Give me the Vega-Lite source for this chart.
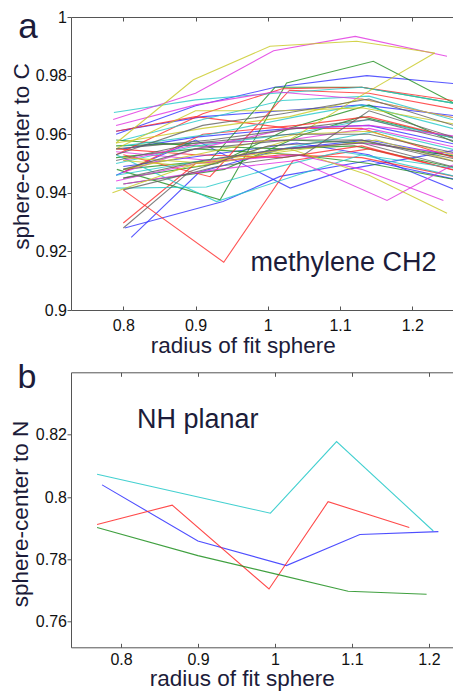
{
"$schema": "https://vega.github.io/schema/vega-lite/v6.json",
"background": "white",
"padding": {"left": 9, "top": 9, "right": 0, "bottom": 0},
"bounds": "flush",
"spacing": 62.3,
"config": {
  "view": {"stroke": null},
  "font": "Liberation Sans",
  "axis": {"labelFont": "Liberation Sans", "labelFontSize": 16, "labelColor": "#111111", "titleFont": "Liberation Sans", "titleFontSize": 22.5, "titleFontWeight": "normal", "titleColor": "#1c1c3a", "domainColor": "#555555", "tickColor": "#555555", "grid": false, "domainWidth": 1, "tickWidth": 1}
},
"datasets": {
"a": [
{"s":"B1","c":"b","x":0.79,"y":0.960},{"s":"B1","c":"b","x":0.90,"y":0.9697},{"s":"B1","c":"b","x":1.01,"y":0.976},{"s":"B1","c":"b","x":1.137,"y":0.980},{"s":"B1","c":"b","x":1.27,"y":0.977},
{"s":"B2","c":"b","x":0.811,"y":0.9248},{"s":"B2","c":"b","x":0.905,"y":0.947},{"s":"B2","c":"b","x":1.02,"y":0.955},{"s":"B2","c":"b","x":1.14,"y":0.958},{"s":"B2","c":"b","x":1.27,"y":0.952},
{"s":"B3","c":"b","x":0.802,"y":0.928},{"s":"B3","c":"b","x":0.938,"y":0.937},{"s":"B3","c":"b","x":1.017,"y":0.9456},{"s":"B3","c":"b","x":1.14,"y":0.951},{"s":"B3","c":"b","x":1.27,"y":0.944},
{"s":"B4","c":"b","x":0.79,"y":0.946},{"s":"B4","c":"b","x":0.90,"y":0.958},{"s":"B4","c":"b","x":1.031,"y":0.9416},{"s":"B4","c":"b","x":1.11,"y":0.948},{"s":"B4","c":"b","x":1.27,"y":0.955},
{"s":"B5","c":"b","x":0.80,"y":0.949},{"s":"B5","c":"b","x":0.92,"y":0.953},{"s":"B5","c":"b","x":1.04,"y":0.957},{"s":"B5","c":"b","x":1.14,"y":0.953},{"s":"B5","c":"b","x":1.27,"y":0.940},
{"s":"B6","c":"b","x":0.79,"y":0.961},{"s":"B6","c":"b","x":0.91,"y":0.966},{"s":"B6","c":"b","x":1.02,"y":0.968},{"s":"B6","c":"b","x":1.13,"y":0.970},{"s":"B6","c":"b","x":1.27,"y":0.966},
{"s":"B7","c":"b","x":0.80,"y":0.955},{"s":"B7","c":"b","x":0.90,"y":0.959},{"s":"B7","c":"b","x":1.03,"y":0.962},{"s":"B7","c":"b","x":1.14,"y":0.963},{"s":"B7","c":"b","x":1.27,"y":0.956},
{"s":"G1","c":"g","x":0.791,"y":0.948},{"s":"G1","c":"g","x":0.934,"y":0.9376},{"s":"G1","c":"g","x":1.026,"y":0.9775},{"s":"G1","c":"g","x":1.146,"y":0.9849},{"s":"G1","c":"g","x":1.27,"y":0.969},
{"s":"G2","c":"g","x":0.79,"y":0.956},{"s":"G2","c":"g","x":0.91,"y":0.957},{"s":"G2","c":"g","x":1.03,"y":0.958},{"s":"G2","c":"g","x":1.14,"y":0.957},{"s":"G2","c":"g","x":1.27,"y":0.952},
{"s":"G3","c":"g","x":0.80,"y":0.948},{"s":"G3","c":"g","x":0.92,"y":0.951},{"s":"G3","c":"g","x":1.01,"y":0.976},{"s":"G3","c":"g","x":1.13,"y":0.976},{"s":"G3","c":"g","x":1.27,"y":0.970},
{"s":"G4","c":"g","x":0.79,"y":0.952},{"s":"G4","c":"g","x":0.90,"y":0.955},{"s":"G4","c":"g","x":1.04,"y":0.953},{"s":"G4","c":"g","x":1.14,"y":0.950},{"s":"G4","c":"g","x":1.27,"y":0.944},
{"s":"G5","c":"g","x":0.80,"y":0.945},{"s":"G5","c":"g","x":0.93,"y":0.950},{"s":"G5","c":"g","x":1.03,"y":0.962},{"s":"G5","c":"g","x":1.14,"y":0.970},{"s":"G5","c":"g","x":1.27,"y":0.956},
{"s":"G6","c":"g","x":0.79,"y":0.958},{"s":"G6","c":"g","x":0.90,"y":0.956},{"s":"G6","c":"g","x":1.02,"y":0.955},{"s":"G6","c":"g","x":1.12,"y":0.956},{"s":"G6","c":"g","x":1.27,"y":0.948},
{"s":"G7","c":"g","x":0.80,"y":0.943},{"s":"G7","c":"g","x":0.94,"y":0.948},{"s":"G7","c":"g","x":1.05,"y":0.960},{"s":"G7","c":"g","x":1.13,"y":0.966},{"s":"G7","c":"g","x":1.27,"y":0.958},
{"s":"R1","c":"r","x":0.80,"y":0.941},{"s":"R1","c":"r","x":0.939,"y":0.9163},{"s":"R1","c":"r","x":1.035,"y":0.951},{"s":"R1","c":"r","x":1.14,"y":0.955},{"s":"R1","c":"r","x":1.27,"y":0.947},
{"s":"R2","c":"r","x":0.80,"y":0.9297},{"s":"R2","c":"r","x":0.90,"y":0.950},{"s":"R2","c":"r","x":1.02,"y":0.953},{"s":"R2","c":"r","x":1.13,"y":0.952},{"s":"R2","c":"r","x":1.27,"y":0.945},
{"s":"R3","c":"r","x":0.79,"y":0.953},{"s":"R3","c":"r","x":0.91,"y":0.967},{"s":"R3","c":"r","x":1.02,"y":0.9755},{"s":"R3","c":"r","x":1.13,"y":0.976},{"s":"R3","c":"r","x":1.27,"y":0.971},
{"s":"R4","c":"r","x":0.80,"y":0.953},{"s":"R4","c":"r","x":0.92,"y":0.9455},{"s":"R4","c":"r","x":1.03,"y":0.975},{"s":"R4","c":"r","x":1.14,"y":0.974},{"s":"R4","c":"r","x":1.27,"y":0.968},
{"s":"R5","c":"r","x":0.79,"y":0.955},{"s":"R5","c":"r","x":0.90,"y":0.953},{"s":"R5","c":"r","x":1.02,"y":0.952},{"s":"R5","c":"r","x":1.13,"y":0.956},{"s":"R5","c":"r","x":1.27,"y":0.947},
{"s":"R6","c":"r","x":0.80,"y":0.947},{"s":"R6","c":"r","x":0.91,"y":0.960},{"s":"R6","c":"r","x":1.04,"y":0.963},{"s":"R6","c":"r","x":1.14,"y":0.966},{"s":"R6","c":"r","x":1.27,"y":0.958},
{"s":"R7","c":"r","x":0.79,"y":0.961},{"s":"R7","c":"r","x":0.90,"y":0.966},{"s":"R7","c":"r","x":1.03,"y":0.962},{"s":"R7","c":"r","x":1.13,"y":0.962},{"s":"R7","c":"r","x":1.27,"y":0.951},
{"s":"C1","c":"c","x":0.787,"y":0.9674},{"s":"C1","c":"c","x":0.90,"y":0.9717},{"s":"C1","c":"c","x":1.01,"y":0.974},{"s":"C1","c":"c","x":1.13,"y":0.976},{"s":"C1","c":"c","x":1.27,"y":0.970},
{"s":"C2","c":"c","x":0.79,"y":0.9416},{"s":"C2","c":"c","x":0.915,"y":0.942},{"s":"C2","c":"c","x":1.0,"y":0.948},{"s":"C2","c":"c","x":1.10,"y":0.954},{"s":"C2","c":"c","x":1.27,"y":0.948},
{"s":"C3","c":"c","x":0.79,"y":0.953},{"s":"C3","c":"c","x":0.929,"y":0.937},{"s":"C3","c":"c","x":1.04,"y":0.946},{"s":"C3","c":"c","x":1.13,"y":0.953},{"s":"C3","c":"c","x":1.27,"y":0.945},
{"s":"C4","c":"c","x":0.80,"y":0.958},{"s":"C4","c":"c","x":0.91,"y":0.965},{"s":"C4","c":"c","x":1.02,"y":0.9715},{"s":"C4","c":"c","x":1.14,"y":0.973},{"s":"C4","c":"c","x":1.27,"y":0.964},
{"s":"C5","c":"c","x":0.79,"y":0.950},{"s":"C5","c":"c","x":0.90,"y":0.956},{"s":"C5","c":"c","x":1.03,"y":0.960},{"s":"C5","c":"c","x":1.14,"y":0.965},{"s":"C5","c":"c","x":1.27,"y":0.958},
{"s":"C6","c":"c","x":0.80,"y":0.956},{"s":"C6","c":"c","x":0.92,"y":0.960},{"s":"C6","c":"c","x":1.04,"y":0.966},{"s":"C6","c":"c","x":1.13,"y":0.970},{"s":"C6","c":"c","x":1.27,"y":0.961},
{"s":"C7","c":"c","x":0.79,"y":0.946},{"s":"C7","c":"c","x":0.91,"y":0.951},{"s":"C7","c":"c","x":1.02,"y":0.955},{"s":"C7","c":"c","x":1.15,"y":0.961},{"s":"C7","c":"c","x":1.27,"y":0.954},
{"s":"M1","c":"m","x":0.786,"y":0.965},{"s":"M1","c":"m","x":0.90,"y":0.974},{"s":"M1","c":"m","x":1.008,"y":0.9885},{"s":"M1","c":"m","x":1.121,"y":0.9934},{"s":"M1","c":"m","x":1.248,"y":0.9866},
{"s":"M2","c":"m","x":0.79,"y":0.963},{"s":"M2","c":"m","x":0.90,"y":0.970},{"s":"M2","c":"m","x":1.01,"y":0.9745},{"s":"M2","c":"m","x":1.13,"y":0.972},{"s":"M2","c":"m","x":1.27,"y":0.965},
{"s":"M3","c":"m","x":0.80,"y":0.943},{"s":"M3","c":"m","x":0.93,"y":0.948},{"s":"M3","c":"m","x":1.04,"y":0.951},{"s":"M3","c":"m","x":1.165,"y":0.9374},{"s":"M3","c":"m","x":1.256,"y":0.9495},
{"s":"M4","c":"m","x":0.79,"y":0.944},{"s":"M4","c":"m","x":0.90,"y":0.950},{"s":"M4","c":"m","x":1.04,"y":0.953},{"s":"M4","c":"m","x":1.13,"y":0.948},{"s":"M4","c":"m","x":1.243,"y":0.9374},
{"s":"M5","c":"m","x":0.80,"y":0.951},{"s":"M5","c":"m","x":0.91,"y":0.957},{"s":"M5","c":"m","x":1.03,"y":0.958},{"s":"M5","c":"m","x":1.14,"y":0.962},{"s":"M5","c":"m","x":1.27,"y":0.955},
{"s":"M6","c":"m","x":0.79,"y":0.954},{"s":"M6","c":"m","x":0.92,"y":0.951},{"s":"M6","c":"m","x":1.02,"y":0.955},{"s":"M6","c":"m","x":1.13,"y":0.957},{"s":"M6","c":"m","x":1.27,"y":0.953},
{"s":"M7","c":"m","x":0.80,"y":0.947},{"s":"M7","c":"m","x":0.90,"y":0.955},{"s":"M7","c":"m","x":1.03,"y":0.962},{"s":"M7","c":"m","x":1.14,"y":0.963},{"s":"M7","c":"m","x":1.27,"y":0.959},
{"s":"Y1","c":"y","x":0.79,"y":0.957},{"s":"Y1","c":"y","x":0.897,"y":0.9786},{"s":"Y1","c":"y","x":1.003,"y":0.990},{"s":"Y1","c":"y","x":1.123,"y":0.9917},{"s":"Y1","c":"y","x":1.231,"y":0.9877},
{"s":"Y2","c":"y","x":0.80,"y":0.952},{"s":"Y2","c":"y","x":0.92,"y":0.950},{"s":"Y2","c":"y","x":1.03,"y":0.958},{"s":"Y2","c":"y","x":1.128,"y":0.973},{"s":"Y2","c":"y","x":1.231,"y":0.9877},
{"s":"Y3","c":"y","x":0.785,"y":0.940},{"s":"Y3","c":"y","x":0.90,"y":0.950},{"s":"Y3","c":"y","x":1.03,"y":0.955},{"s":"Y3","c":"y","x":1.14,"y":0.946},{"s":"Y3","c":"y","x":1.248,"y":0.933},
{"s":"Y4","c":"y","x":0.79,"y":0.955},{"s":"Y4","c":"y","x":0.90,"y":0.968},{"s":"Y4","c":"y","x":1.02,"y":0.968},{"s":"Y4","c":"y","x":1.13,"y":0.969},{"s":"Y4","c":"y","x":1.27,"y":0.963},
{"s":"Y5","c":"y","x":0.80,"y":0.948},{"s":"Y5","c":"y","x":0.92,"y":0.954},{"s":"Y5","c":"y","x":1.04,"y":0.960},{"s":"Y5","c":"y","x":1.14,"y":0.961},{"s":"Y5","c":"y","x":1.27,"y":0.952},
{"s":"Y6","c":"y","x":0.79,"y":0.957},{"s":"Y6","c":"y","x":0.91,"y":0.962},{"s":"Y6","c":"y","x":1.03,"y":0.966},{"s":"Y6","c":"y","x":1.13,"y":0.972},{"s":"Y6","c":"y","x":1.27,"y":0.965},
{"s":"Y7","c":"y","x":0.80,"y":0.951},{"s":"Y7","c":"y","x":0.90,"y":0.949},{"s":"Y7","c":"y","x":1.02,"y":0.954},{"s":"Y7","c":"y","x":1.15,"y":0.958},{"s":"Y7","c":"y","x":1.27,"y":0.950},
{"s":"K1","c":"k","x":0.80,"y":0.928},{"s":"K1","c":"k","x":0.892,"y":0.9473},{"s":"K1","c":"k","x":1.0,"y":0.956},{"s":"K1","c":"k","x":1.13,"y":0.958},{"s":"K1","c":"k","x":1.27,"y":0.950},
{"s":"K2","c":"k","x":0.79,"y":0.953},{"s":"K2","c":"k","x":0.91,"y":0.963},{"s":"K2","c":"k","x":1.02,"y":0.967},{"s":"K2","c":"k","x":1.14,"y":0.972},{"s":"K2","c":"k","x":1.27,"y":0.962},
{"s":"K3","c":"k","x":0.80,"y":0.948},{"s":"K3","c":"k","x":0.90,"y":0.955},{"s":"K3","c":"k","x":1.03,"y":0.958},{"s":"K3","c":"k","x":1.13,"y":0.958},{"s":"K3","c":"k","x":1.27,"y":0.951},
{"s":"K4","c":"k","x":0.79,"y":0.955},{"s":"K4","c":"k","x":0.92,"y":0.958},{"s":"K4","c":"k","x":1.04,"y":0.962},{"s":"K4","c":"k","x":1.14,"y":0.965},{"s":"K4","c":"k","x":1.27,"y":0.957},
{"s":"K5","c":"k","x":0.80,"y":0.945},{"s":"K5","c":"k","x":0.91,"y":0.951},{"s":"K5","c":"k","x":1.02,"y":0.955},{"s":"K5","c":"k","x":1.13,"y":0.957},{"s":"K5","c":"k","x":1.27,"y":0.948},
{"s":"K6","c":"k","x":0.79,"y":0.951},{"s":"K6","c":"k","x":0.90,"y":0.957},{"s":"K6","c":"k","x":1.03,"y":0.960},{"s":"K6","c":"k","x":1.14,"y":0.960},{"s":"K6","c":"k","x":1.27,"y":0.953},
{"s":"K7","c":"k","x":0.80,"y":0.941},{"s":"K7","c":"k","x":0.93,"y":0.949},{"s":"K7","c":"k","x":1.05,"y":0.953},{"s":"K7","c":"k","x":1.14,"y":0.968},{"s":"K7","c":"k","x":1.27,"y":0.958}
],
"b": [
{"s":"N1","c":"c","x":0.7688,"y":0.8073},{"s":"N1","c":"c","x":0.994,"y":0.7948},{"s":"N1","c":"c","x":1.080,"y":0.8178},{"s":"N1","c":"c","x":1.2057,"y":0.7891},
{"s":"N2","c":"b","x":0.7753,"y":0.8039},{"s":"N2","c":"b","x":0.8998,"y":0.7859},{"s":"N2","c":"b","x":1.0148,"y":0.778},{"s":"N2","c":"b","x":1.1103,"y":0.788},{"s":"N2","c":"b","x":1.2123,"y":0.7889},
{"s":"N3","c":"r","x":0.7688,"y":0.7912},{"s":"N3","c":"r","x":0.8664,"y":0.7974},{"s":"N3","c":"r","x":0.9922,"y":0.7705},{"s":"N3","c":"r","x":1.069,"y":0.7985},{"s":"N3","c":"r","x":1.1745,"y":0.7902},
{"s":"N4","c":"g","x":0.7688,"y":0.7902},{"s":"N4","c":"g","x":0.8998,"y":0.7812},{"s":"N4","c":"g","x":0.9974,"y":0.7755},{"s":"N4","c":"g","x":1.095,"y":0.7698},{"s":"N4","c":"g","x":1.197,"y":0.7688}
],
"la": [{"label": "methylene CH2", "x": 1.1048, "y": 0.916}],
"lb": [{"label": "NH planar", "x": 0.8997, "y": 0.8247}]
},
"vconcat": [
{
  "width": 382, "height": 293,
  "title": {"text": "a", "anchor": "start", "frame": "group", "orient": "top", "fontSize": 35, "fontWeight": "normal", "font": "Liberation Sans", "color": "#1c1c3a", "dx": -52.7, "dy": 64, "offset": 0, "baseline": "alphabetic"},
  "resolve": {"axis": {"x": "independent"}},
  "layer": [
    {
      "data": {"name": "a"},
      "mark": {"type": "line", "clip": true, "strokeWidth": 1.1, "opacity": 0.8},
      "encoding": {
        "x": {"field": "x", "type": "quantitative", "scale": {"domain": [0.7276, 1.2563], "nice": false, "zero": false},
              "axis": {"orient": "bottom", "values": [0.8, 0.9, 1, 1.1, 1.2], "format": "~g", "tickSize": -4, "labelPadding": 11, "title": "radius of fit sphere", "titleX": 171.7, "titleY": 35.5, "titleBaseline": "middle", "titleAlign": "center"}},
        "y": {"field": "y", "type": "quantitative", "scale": {"domain": [0.9, 1], "nice": false, "zero": false},
              "axis": {"values": [0.9, 0.92, 0.94, 0.96, 0.98, 1], "format": "~g", "tickSize": 4, "labelPadding": 0.5, "title": "sphere-center to C", "titleX": -50, "titleY": 139, "titleBaseline": "middle", "titleAlign": "center", "titleAngle": -90}},
        "detail": {"field": "s"},
        "color": {"field": "c", "type": "nominal", "scale": {"domain": ["b", "g", "r", "c", "m", "y", "k"], "range": ["#2f2fff", "#1f8f1f", "#ff2a2a", "#22c8c8", "#e030e0", "#c8c820", "#606060"]}, "legend": null}
      }
    },
    {
      "data": {"name": "la"},
      "mark": {"type": "text", "fontSize": 27, "font": "Liberation Sans", "color": "#1c1c3a", "align": "center", "baseline": "middle"},
      "encoding": {
        "x": {"field": "x", "type": "quantitative", "scale": {"domain": [0.7276, 1.2563], "nice": false, "zero": false},
              "axis": {"orient": "top", "values": [0.8, 0.9, 1, 1.1, 1.2], "tickSize": -4, "labels": false, "title": null}},
        "y": {"field": "y", "type": "quantitative"},
        "text": {"field": "label"}
      }
    }
  ]
},
{
  "width": 382, "height": 275,
  "title": {"text": "b", "anchor": "start", "frame": "group", "orient": "top", "fontSize": 34, "fontWeight": "normal", "font": "Liberation Sans", "color": "#1c1c3a", "dx": -53.4, "dy": 50, "offset": 0, "baseline": "alphabetic"},
  "resolve": {"axis": {"x": "independent"}},
  "layer": [
    {
      "data": {"name": "b"},
      "mark": {"type": "line", "clip": true, "strokeWidth": 1.1, "opacity": 0.85},
      "encoding": {
        "x": {"field": "x", "type": "quantitative", "scale": {"domain": [0.7349, 1.2313], "nice": false, "zero": false},
              "axis": {"orient": "bottom", "values": [0.8, 0.9, 1, 1.1, 1.2], "format": "~g", "tickSize": -4, "labelPadding": 8.5, "title": "radius of fit sphere", "titleX": 170.8, "titleY": 31.5, "titleBaseline": "middle", "titleAlign": "center"}},
        "y": {"field": "y", "type": "quantitative", "scale": {"domain": [0.7518, 0.84], "nice": false, "zero": false},
              "axis": {"values": [0.76, 0.78, 0.8, 0.82], "format": "~g", "tickSize": 4, "labelPadding": 0.5, "title": "sphere-center to N", "titleX": -50.5, "titleY": 141.2, "titleBaseline": "middle", "titleAlign": "center", "titleAngle": -90}},
        "detail": {"field": "s"},
        "color": {"field": "c", "type": "nominal", "scale": {"domain": ["b", "g", "r", "c"], "range": ["#3b3bff", "#2e992e", "#ff3a3a", "#30cccc"]}, "legend": null}
      }
    },
    {
      "data": {"name": "lb"},
      "mark": {"type": "text", "fontSize": 27, "font": "Liberation Sans", "color": "#1c1c3a", "align": "center", "baseline": "middle"},
      "encoding": {
        "x": {"field": "x", "type": "quantitative", "scale": {"domain": [0.7349, 1.2313], "nice": false, "zero": false},
              "axis": {"orient": "top", "values": [0.8, 0.9, 1, 1.1, 1.2], "tickSize": -4, "labels": false, "title": null}},
        "y": {"field": "y", "type": "quantitative"},
        "text": {"field": "label"}
      }
    }
  ]
}
]
}
